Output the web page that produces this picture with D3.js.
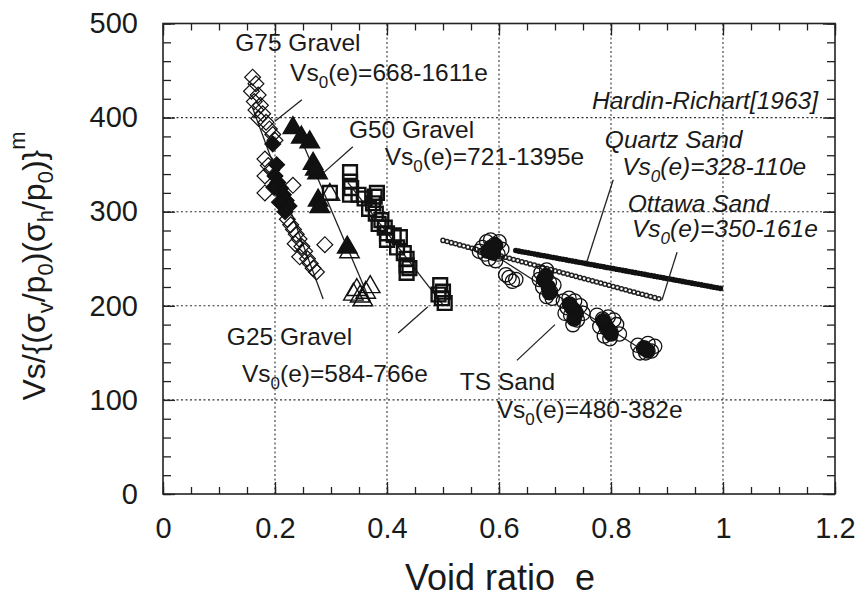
<!DOCTYPE html>
<html lang="en">
<head>
  <meta charset="UTF-8">
  <title>Vs vs void ratio</title>
  <script src="https://d3js.org/d3.v7.min.js"></script>
  <style>
    body { margin: 0; background: #fff; }
    text { font-family: "Liberation Sans", Arial, Helvetica, sans-serif; fill: #1a1a1a; }
  </style>
</head>
<body>
  <svg id="chart" width="863" height="598"></svg>
  <script>
    // ---- data (void ratio e, normalised Vs) ----
    let g75Open = [[0.160,443],[0.166,436],[0.158,428],[0.170,424],[0.163,417],[0.174,413],[0.166,408],
      [0.178,404],[0.171,399],[0.184,395],[0.190,388],[0.196,382],[0.200,376],[0.182,356],[0.188,349],
      [0.194,344],[0.182,338],[0.232,328],[0.182,320],[0.222,292],[0.228,286],[0.233,281],[0.238,276],
      [0.243,271],[0.236,266],[0.248,263],[0.253,258],[0.244,252],[0.258,250],[0.263,245],[0.268,240],
      [0.274,236],[0.289,265]];
    let g75Solid = [[0.196,372],[0.200,338],[0.205,331],[0.210,325],[0.198,326],[0.215,318],[0.220,312],
      [0.208,310],[0.225,306],[0.218,300],[0.203,350]];
    let g50Solid = [[0.232,389],[0.247,379],[0.262,374],[0.268,351],[0.276,341],[0.272,345],[0.277,312],
      [0.280,305],[0.329,262]];
    let g50Open = [[0.298,318],[0.333,257],[0.346,217],[0.340,212],[0.357,206],[0.370,220],[0.352,210],
      [0.362,214]];
    let g25Pts = [[0.298,320],[0.334,342],[0.334,332],[0.334,318],[0.349,318],[0.336,325],[0.360,314],
      [0.378,316],[0.375,309],[0.368,303],[0.380,298],[0.390,291],[0.396,283],[0.385,287],[0.400,277],
      [0.400,270],[0.412,275],[0.423,273],[0.418,262],[0.430,256],[0.435,250],[0.435,243],[0.435,235],
      [0.440,240],[0.495,222],[0.500,215],[0.498,208],[0.503,203],[0.492,212],[0.382,320]];
    let tsOpen = [[0.570,262],[0.578,268],[0.585,270],[0.592,265],[0.600,268],[0.575,255],[0.588,258],
      [0.598,255],[0.582,250],[0.594,248],[0.605,260],[0.565,258],[0.618,230],[0.624,226],[0.612,233],
      [0.630,228],[0.675,235],[0.685,238],[0.680,228],[0.690,225],[0.678,220],[0.692,215],[0.685,210],
      [0.698,222],[0.672,228],[0.695,208],[0.715,205],[0.725,208],[0.735,205],[0.722,198],[0.735,195],
      [0.745,200],[0.728,190],[0.740,185],[0.732,180],[0.750,192],[0.718,192],[0.775,190],[0.785,186],
      [0.795,188],[0.805,185],[0.780,178],[0.792,176],[0.800,172],[0.788,168],[0.810,180],[0.798,165],
      [0.815,170],[0.848,158],[0.858,155],[0.866,160],[0.872,152],[0.862,150],[0.878,157],[0.852,150]];
    let tsSolid = [[0.585,262],[0.590,256],[0.580,258],[0.594,264],[0.680,228],[0.688,220],[0.684,232],
      [0.690,214],[0.730,198],[0.738,192],[0.726,202],[0.734,186],[0.790,180],[0.795,175],[0.786,184],
      [0.800,170],[0.860,155],[0.866,152]];

    // fitted lines Vs0(e) = a - b*e, drawn over [e0, e1]
    let fitNames = ['G75', 'G50', 'G25', 'TS', 'Quartz', 'Ottawa'];
    let fitA = [668, 721, 584, 480, 328, 350];
    let fitB = [1611, 1395, 766, 382, 110, 161];
    let fitFrom = [0.16, 0.23, 0.33, 0.58, 0.63, 0.50];
    let fitTo = [0.286, 0.37, 0.50, 0.87, 1.00, 0.89];

    // leader lines [e1, v1, e2, v2]
    let leaders = [[0.248,419,0.200,396],[0.339,369,0.286,341],[0.420,171,0.473,199],
      [0.632,142,0.700,180],[0.804,334,0.757,247],[0.918,257,0.891,206]];

    let xTicks = [0, 0.2, 0.4, 0.6, 0.8, 1, 1.2];
    let yTicks = [0, 100, 200, 300, 400, 500];

    let svg = d3.select('#chart');
    let x = d3.scaleLinear().domain([0, 1.2]).range([163, 835]);
    let y = d3.scaleLinear().domain([0, 500]).range([494, 23.5]);

    // grid
    let grid = svg.append('g').attr('stroke', '#333').attr('stroke-width', 1.1)
      .attr('stroke-dasharray', '2,2.5');
    grid.selectAll('.gx').data(xTicks.slice(1, -1)).join('line')
      .attr('x1', d => x(d)).attr('x2', d => x(d)).attr('y1', y(0)).attr('y2', y(500));
    grid.selectAll('.gy').data(yTicks.slice(1, -1)).join('line')
      .attr('x1', x(0)).attr('x2', x(1.2)).attr('y1', d => y(d)).attr('y2', d => y(d));

    // axes (ticks inward on all 4 sides)
    function addAxis(axis, tx, ty, labels) {
      let g = svg.append('g').attr('transform', 'translate(' + tx + ',' + ty + ')').call(axis);
      g.select('.domain').remove();
      g.selectAll('line').attr('stroke', '#222').attr('stroke-width', 1.3);
      g.selectAll('text').attr('font-size', 29).attr('fill', '#1a1a1a')
        .style('font-family', '"Liberation Sans", Arial, sans-serif');
      if (!labels) g.selectAll('text').remove();
      return g;
    }
    let minorX = d3.range(0, 1.2001, 0.05), minorY = d3.range(0, 500.1, 20);
    addAxis(d3.axisBottom(x).tickValues(minorX).tickSize(-7), 0, y(0), false);
    addAxis(d3.axisTop(x).tickValues(minorX).tickSize(-7), 0, y(500), false);
    addAxis(d3.axisLeft(y).tickValues(minorY).tickSize(-8), x(0), 0, false);
    addAxis(d3.axisRight(y).tickValues(minorY).tickSize(-8), x(1.2), 0, false);
    addAxis(d3.axisBottom(x).tickValues(xTicks).tickSize(-12).tickPadding(23)
      .tickFormat(d3.format('~g')), 0, y(0), true);
    addAxis(d3.axisTop(x).tickValues(xTicks).tickSize(-12), 0, y(500), false);
    addAxis(d3.axisLeft(y).tickValues(yTicks).tickSize(-12).tickPadding(25), x(0), 0, true);
    addAxis(d3.axisRight(y).tickValues(yTicks).tickSize(-12), x(1.2), 0, false);

    svg.append('rect').attr('x', x(0)).attr('y', y(500))
      .attr('width', x(1.2) - x(0)).attr('height', y(0) - y(500))
      .attr('fill', 'none').attr('stroke', '#222').attr('stroke-width', 1.6);

    // fitted lines
    let fitG = svg.append('g');
    fitNames.forEach(function (n, i) {
      let pts = [[fitFrom[i], fitA[i] - fitB[i] * fitFrom[i]], [fitTo[i], fitA[i] - fitB[i] * fitTo[i]]];
      let d = d3.line().x(p => x(p[0])).y(p => y(p[1]))(pts);
      if (n === 'Quartz') {
        fitG.append('path').attr('d', d).attr('stroke', '#111').attr('stroke-width', 4.2).attr('fill', 'none');
        fitG.append('path').attr('d', d).attr('stroke', '#111').attr('stroke-width', 5.6)
          .attr('stroke-linecap', 'round').attr('stroke-dasharray', '0 3.2').attr('fill', 'none');
      } else if (n === 'Ottawa') {
        fitG.append('path').attr('d', d).attr('stroke', '#222').attr('stroke-width', 5.6)
          .attr('stroke-linecap', 'round').attr('stroke-dasharray', '0 4.3').attr('fill', 'none');
        fitG.append('path').attr('d', d).attr('stroke', '#fff').attr('stroke-width', 2.6)
          .attr('stroke-linecap', 'round').attr('stroke-dasharray', '0 4.3').attr('fill', 'none');
      } else {
        fitG.append('path').attr('d', d).attr('stroke', '#222').attr('stroke-width', 1.3).attr('fill', 'none');
      }
    });

    // leaders
    svg.append('g').selectAll('line').data(leaders).join('line')
      .attr('x1', d => x(d[0])).attr('y1', d => y(d[1])).attr('x2', d => x(d[2])).attr('y2', d => y(d[3]))
      .attr('stroke', '#222').attr('stroke-width', 1.3);

    // markers
    function markers(data, type, size, fill, sw, rot) {
      svg.append('g').selectAll('path').data(data).join('path')
        .attr('d', d3.symbol().type(type).size(size))
        .attr('transform', d => 'translate(' + x(d[0]) + ',' + y(d[1]) + ')' + (rot ? ' rotate(45)' : ''))
        .attr('fill', fill).attr('stroke', '#111').attr('stroke-width', sw);
    }
    markers(g75Open, d3.symbolSquare, 125, 'none', 1.2, true);
    markers(g75Solid, d3.symbolSquare, 125, '#111', 1.2, true);
    markers(g50Solid, d3.symbolTriangle, 165, '#111', 1.4);
    markers(g50Open, d3.symbolTriangle, 165, 'none', 1.4);
    markers(g25Pts, d3.symbolSquare, 190, 'none', 2.4);
    markers(tsOpen, d3.symbolCircle, 160, 'none', 1.3);
    markers(tsSolid, d3.symbolCircle, 160, '#111', 1.3);

    // annotations
    function label(e, v, parts, italic) {
      let t = svg.append('text').attr('x', x(e)).attr('y', y(v)).attr('font-size', 24.5)
        .attr('font-style', italic ? 'italic' : 'normal');
      parts.forEach(function (p) {
        if (p[1] === 'sub') {
          t.append('tspan').attr('font-size', 17).attr('dy', 7).text(p[0]);
        } else {
          t.append('tspan').attr('dy', p[1] === 'back' ? -7 : 0).text(p[0]);
        }
      });
    }
    function eqn(e, v, rhs, italic) {
      label(e, v, [['Vs'], ['0', 'sub'], ['(e)=' + rhs, 'back']], italic);
    }
    label(0.129, 471, [['G75 Gravel']]);
    eqn(0.227, 439, '668-1611e');
    label(0.332, 378, [['G50 Gravel']]);
    eqn(0.396, 350, '721-1395e');
    label(0.114, 158, [['G25 Gravel']]);
    eqn(0.141, 119, '584-766e');
    label(0.530, 110.5, [['TS Sand']]);
    eqn(0.596, 81, '480-382e');
    label(0.766, 409, [['Hardin-Richart[1963]']], true);
    label(0.789, 368, [['Quartz Sand']], true);
    eqn(0.820, 339, '328-110e', true);
    label(0.830, 300, [['Ottawa Sand']], true);
    eqn(0.8375, 273, '350-161e', true);

    // axis titles
    svg.append('text').attr('x', 500).attr('y', 590).attr('text-anchor', 'middle')
      .attr('font-size', 36).text('Void ratio\u00a0\u00a0e');

    let yt = svg.append('text').attr('transform', 'translate(45,266) rotate(-90)')
      .attr('text-anchor', 'middle').attr('font-size', 32);
    let ytParts = [['Vs/{(\u03c3'], ['v', 'sub'], ['/p', 'back'], ['0', 'sub'], [')(\u03c3', 'back'],
      ['h', 'sub'], ['/p', 'back'], ['0', 'sub'], [')}', 'back'], ['m', 'sup']];
    ytParts.forEach(function (p) {
      let s = yt.append('tspan').text(p[0]);
      if (p[1] === 'sub') s.attr('font-size', 22).attr('dy', 8);
      else if (p[1] === 'back') s.attr('dy', -8);
      else if (p[1] === 'sup') s.attr('font-size', 22).attr('dy', -20);
    });
  </script>
</body>
</html>
